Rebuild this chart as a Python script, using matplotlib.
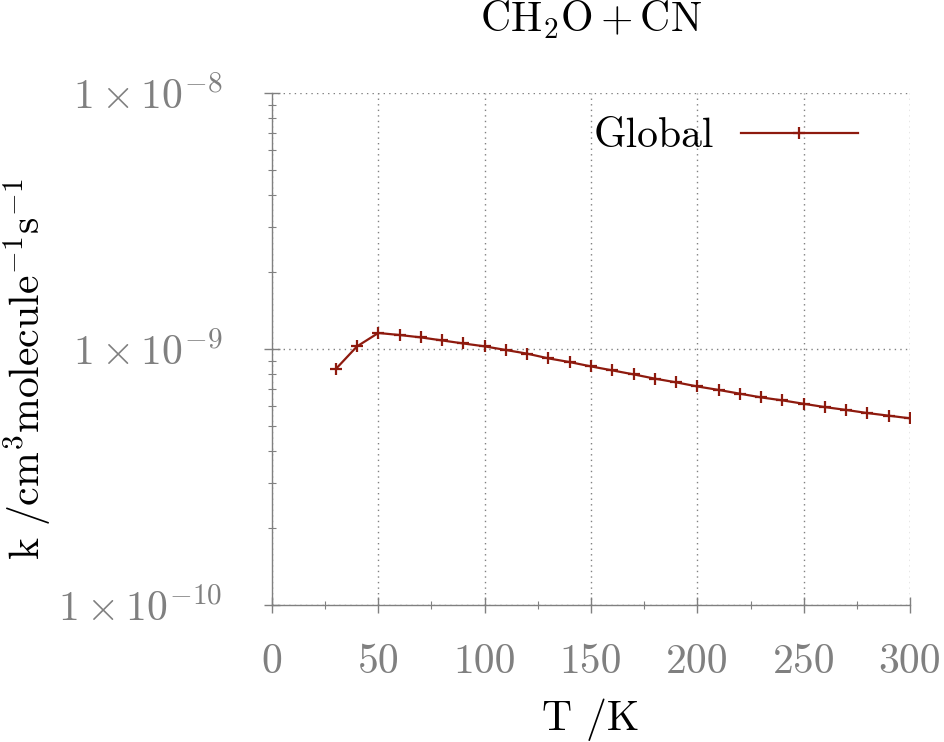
import matplotlib
matplotlib.use('Agg')
from matplotlib import pyplot as plt
from matplotlib import ticker

# Rate constant of CH2O + CN
temperature = [30, 40, 50, 60, 70, 80, 90, 100, 110, 120, 130, 140, 150, 160,
               170, 180, 190, 200, 210, 220, 230, 240, 250, 260, 270, 280, 290, 300]
rate_global = [8.35e-10, 1.024e-9, 1.155e-9, 1.134e-9, 1.110e-9, 1.080e-9, 1.051e-9,
               1.024e-9, 9.91e-10, 9.59e-10, 9.19e-10, 8.89e-10, 8.55e-10, 8.25e-10,
               7.96e-10, 7.66e-10, 7.41e-10, 7.14e-10, 6.92e-10, 6.69e-10, 6.47e-10,
               6.30e-10, 6.11e-10, 5.93e-10, 5.78e-10, 5.62e-10, 5.49e-10, 5.36e-10]
x_ticks = [0, 50, 100, 150, 200, 250, 300]
y_ticks = [1e-10, 1e-9, 1e-8]
y_tick_labels = [r'$1\times10^{-10}$', r'$1\times10^{-9}$', r'$1\times10^{-8}$']

plt.rcParams['font.family'] = 'serif'
plt.rcParams['font.serif'] = ['cmr10']
plt.rcParams['mathtext.fontset'] = 'cm'
plt.rcParams['axes.formatter.use_mathtext'] = True

GREY = '#808080'
LINE = '#8e1a0e'
FS = 30

fig = plt.figure(figsize=(9.45, 7.42), dpi=100)
ax = fig.add_axes([0.2878, 0.1846, 0.963 - 0.2878, 0.8747 - 0.1846])

ax.plot(temperature, rate_global, color=LINE, lw=1.6, marker='+',
        markersize=9, markeredgewidth=1.6, label='Global')

ax.set_yscale('log')
ax.set_xlim(0, 300)
ax.set_ylim(1e-10, 1e-8)
ax.set_xticks(x_ticks)
ax.xaxis.set_major_formatter(ticker.FuncFormatter(lambda v, p: '%d' % v))
ax.xaxis.set_minor_locator(ticker.MultipleLocator(25))
ax.set_yticks(y_ticks)
ax.set_yticklabels(y_tick_labels)

for side in ('top', 'right'):
    ax.spines[side].set_visible(False)
for side in ('left', 'bottom'):
    ax.spines[side].set_color(GREY)
    ax.spines[side].set_linewidth(1.0)

ax.tick_params(which='major', direction='inout', length=12, width=1.0, color=GREY,
               labelcolor=GREY, labelsize=FS)
ax.tick_params(which='minor', direction='inout', length=6, width=0.8, color=GREY)
ax.tick_params(axis='x', which='major', pad=22)
ax.tick_params(axis='y', which='major', pad=30)
ax.tick_params(axis='y', which='minor', labelleft=False)

ax.grid(True, which='major', linestyle=(0, (1, 3)), color=GREY, linewidth=1.0)

ax.set_title(r'$\mathrm{CH_2O + CN}$', fontsize=FS, pad=44)
ax.set_xlabel('T /K', fontsize=FS)
ax.xaxis.set_label_coords(0.5, -0.183)
ax.set_ylabel(r'$\mathrm{k\ /cm^3molecule^{-1}s^{-1}}$', fontsize=30)
ax.yaxis.set_label_coords(-0.343, 0.46)

ax.legend(loc='upper right', frameon=False, fontsize=FS, markerfirst=False,
          handlelength=2.8, handletextpad=0.65, borderaxespad=0.2,
          bbox_to_anchor=(0.957, 1.0))

plt.savefig('out.png', dpi=100)
